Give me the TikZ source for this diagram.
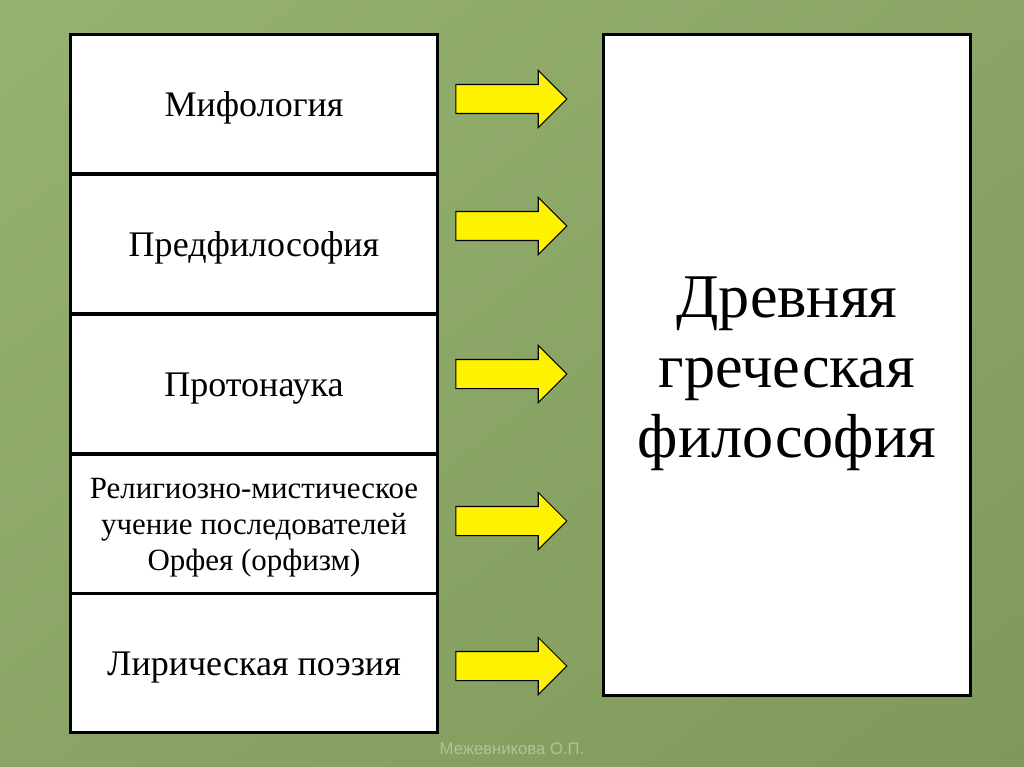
\documentclass[tikz,border=0pt]{standalone}
\usepackage{fontspec}
\setmainfont{Liberation Serif}
\newfontfamily\footfont{Liberation Sans}
\usepackage{tikz}
\usetikzlibrary{shapes.arrows, shadings, positioning, calc}
\usepackage{xcolor}
\definecolor{bgtl}{RGB}{150,178,112}
\definecolor{bgbr}{RGB}{126,153,90}
\definecolor{bgmid}{RGB}{138,165,101}
\definecolor{footgray}{RGB}{176,195,156}
\tikzset{
  stagebox/.style={
    rectangle, draw=black, line width=0.06cm, fill=white,
    minimum width=7.36cm, minimum height=2.8cm,
    text height=18.5pt, text depth=4.5pt,
    align=center, font=\fontsize{20.5}{24}\selectfont
  },
  resultbox/.style={
    rectangle, draw=black, line width=0.06cm, fill=white,
    minimum width=7.36cm, minimum height=13.24cm,
    align=center, font=\fontsize{35.4}{39.8}\selectfont
  },
  yarrow/.style={
    single arrow, draw=black, line width=0.6pt, fill=yellow,
    minimum height=2.22cm, inner ysep=0.28cm, inner xsep=0pt,
    single arrow head extend=0.28cm, single arrow tip angle=90,
    single arrow head indent=0pt
  }
}

\begin{document}
\begin{tikzpicture}[x=0.02cm, y=-0.02cm]

% Background
\shade[upper left=bgtl, upper right=bgmid, lower left=bgmid, lower right=bgbr]
  (0,0) rectangle (1024,767);
\useasboundingbox (0,0) rectangle (1024,767);

% Sources
\node[stagebox] (myth)    at (254,104) {Мифология};
\node[stagebox] (prephil) at (254,244) {Предфилософия};
\node[stagebox] (proto)   at (254,384) {Протонаука};
\node[stagebox] (orph)    at (254,524) {};
\node[font=\fontsize{17.6}{20.5}\selectfont, align=center] (orphtext) at (254,528)
  {Религиозно-мистическое\\учение последователей\\Орфея (орфизм)};
\node[stagebox] (lyric)   at (254,663) {Лирическая поэзия};

% Result
\node[resultbox] (greek) at (787,365) {};
\node[font=\fontsize{35.4}{39.8}\selectfont, align=center] (greektext) at (787,374)
  {Древняя\\греческая\\философия};

% Arrows
\node[yarrow] (a1) at (504,99) {};
\node[yarrow] (a2) at (504,226) {};
\node[yarrow] (a3) at (504,374) {};
\node[yarrow] (a4) at (504,521) {};
\node[yarrow] (a5) at (504,666) {};

% Footer
\node[font=\footfont\fontsize{9.5}{11}\selectfont, text=footgray] (author) at (512,749) {Межевникова О.П.};

\end{tikzpicture}
\end{document}
